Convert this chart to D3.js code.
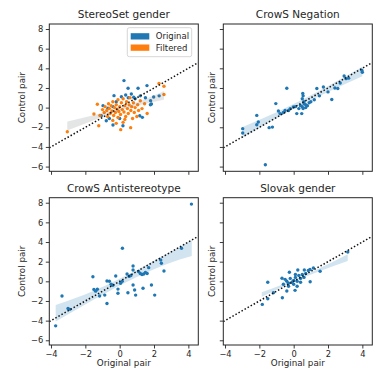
<!DOCTYPE html>
<html>
<head>
<meta charset="utf-8">
<script src="https://cdn.jsdelivr.net/npm/d3@7"></script>
<style>
  body { margin: 0; background: #fff; }
  svg text { font-family: "DejaVu Sans", sans-serif; fill: #262626; }
</style>
</head>
<body>
<div id="chart"></div>
<script>
// tick values shared by all four panels
const xTicks = [-4, -2, 0, 2, 4];
const yTicks = [-6, -4, -2, 0, 2, 4, 6, 8];
const xDomain = [-4.1, 4.58];
const yDomain = [-6.48, 8.51];

const titles = ["StereoSet gender", "CrowS Negation", "CrowS Antistereotype", "Slovak gender"];
const seriesNames = ["Original", "Filtered"];

// StereoSet gender: [original pair, control pair]
const stereoOriginal = [
  [0.25, 2.75], [0.49, 1.97], [1.07, 1.97], [1.59, 2.24], [-0.33, 1.22], [0.35, 1.29], [0.68, 1.39],
  [0.82, 1.05], [-0.39, 0.1], [-0.68, -0.07], [-0.97, 0.2], [1.85, 0.37], [1.8, 0.7], [1.17, -0.82],
  [1.32, -0.99], [-0.78, -1.33], [-0.39, -1.77], [0.19, -1.84], [-1.07, -0.82], [1.98, 1.08],
  [1.79, 0.3], [-0.2, 0.6], [0.9, 0.9], [0.5, 1.0], [1.2, 1.2], [0.0, -1.1], [-0.6, -1.1], [2.3, 1.2],
  [1.5, 1.0], [0.1, 1.1]
];
const stereoFiltered = [
  [-3.05, -2.45], [-1.22, -1.84], [-1.5, -0.65], [-1.3, 0.34], [-1.15, -0.8], [-1.0, -0.2], [-0.9, -0.5],
  [-0.85, 0.1], [-0.75, -0.3], [-0.7, -0.9], [-0.65, 0.4], [-0.6, -0.1], [-0.55, -0.6], [-0.5, 0.2],
  [-0.45, -0.35], [-0.4, -1.3], [-0.4, 0.6], [-0.35, -0.8], [-0.3, 0.0], [-0.25, -0.5], [-0.2, 0.3],
  [-0.15, -0.15], [-0.1, -1.0], [-0.1, 0.8], [-0.05, -0.4], [0.0, 0.1], [0.05, -0.7], [0.06, -2.24],
  [0.1, 0.5], [0.15, -0.2], [0.2, -1.5], [0.2, 0.9], [0.25, -0.45], [0.3, 0.2], [0.35, -0.9], [0.4, 0.6],
  [0.45, -0.1], [0.5, -0.6], [0.55, 0.3], [0.6, 1.0], [0.64, -2.04], [0.65, -0.3], [0.7, 0.1],
  [0.75, -1.1], [0.8, 0.5], [0.85, -0.5], [0.9, 0.0], [1.0, -0.9], [1.05, 0.3], [1.1, -0.3], [1.2, 0.7],
  [1.3, -0.1], [1.45, 0.4], [1.6, -0.6], [2.29, 2.45], [2.58, 2.17], [2.58, 1.33], [-0.2, -1.6], [0.3, -1.2]
];
const negation = [
  [-2.97, -2.14], [-2.97, -2.59], [-2.06, -1.47], [-2.15, -1.74], [-2.15, -0.79], [-1.43, -2.04],
  [-1.24, -1.98], [-1.04, 0.41], [-0.89, -0.35], [-0.79, -0.61], [-0.4, 1.97], [-0.6, -0.5], [-0.5, -0.3],
  [-0.3, -0.3], [-0.2, -0.1], [-0.02, 0.06], [0.1, 0.1], [0.18, -0.61], [0.47, -0.61], [0.53, 1.43],
  [0.55, 1.2], [0.5, 0.9], [0.6, 0.6], [0.7, 0.3], [0.5, 0.1], [0.55, -0.1], [0.7, 0.0], [0.8, 0.2],
  [0.9, 0.5], [0.6, 0.4], [0.4, 0.2], [0.3, -0.1], [1.0, 0.6], [1.2, 0.8], [1.35, 1.94], [1.5, 1.2],
  [1.73, 2.1], [2.0, 1.6], [2.22, 0.82], [2.4, 2.0], [2.57, 1.94], [2.71, 2.51], [2.94, 3.22],
  [3.05, 2.95], [3.2, 3.0], [3.97, 3.81], [4.0, 3.6], [-1.65, -5.82]
];
const antistereotype = [
  [4.18, 7.86], [0.16, 3.37], [-3.36, -1.5], [-3.73, -4.53], [-3.01, -2.76], [-2.9, -2.85],
  [-1.56, 0.47], [-1.5, -0.82], [-1.3, -0.8], [-1.4, -1.0], [-1.17, -1.5], [-0.87, -1.4], [-0.74, -2.25],
  [-0.74, 0.03], [-0.6, 0.0], [-0.5, -0.3], [-0.4, -0.4], [-0.23, 0.54], [-0.1, -0.79], [-0.1, -1.22],
  [0.05, -0.2], [0.15, 0.0], [0.43, 0.74], [0.48, -1.16], [0.55, 0.5], [0.65, 0.6], [0.78, 1.56],
  [0.78, 1.15], [0.78, -0.38], [0.87, -0.89], [0.93, -1.4], [1.1, 1.0], [1.2, 0.8], [1.3, 0.7],
  [1.4, 0.75], [1.5, 0.9], [1.6, 0.8], [1.69, 1.39], [1.36, -0.71], [1.85, -0.38], [2.04, -1.4],
  [2.39, 2.17], [2.43, 1.84], [2.58, 1.05], [3.6, 3.37]
];
const slovak = [
  [-1.83, -2.35], [-1.51, -0.1], [-1.51, -1.78], [-1.18, -1.16], [-0.66, -1.67], [-0.68, 0.31],
  [-0.4, -0.99], [-0.25, 0.92], [0.08, -0.92], [0.24, 1.15], [0.62, 1.15], [0.96, -0.04], [1.54, 1.02],
  [3.15, 2.99], [0.85, 1.1], [0.95, 1.2], [1.15, 1.35], [-0.5, 0.2], [-0.4, 0.0], [-0.3, -0.2],
  [-0.2, 0.3], [-0.1, -0.1], [0.0, 0.1], [0.1, 0.4], [0.2, 0.0], [0.3, 0.6], [0.4, 0.3], [0.5, 0.7],
  [0.6, 0.4], [0.7, 0.8], [-0.3, -0.5], [0.0, -0.3], [0.2, -0.5], [0.4, -0.1], [0.1, 0.7], [-0.6, -0.3]
];

// confidence bands: x, lower, upper
const stereoBandX = [-3.05, -1.5, 0.3, 1.5, 2.58];
const stereoBandLo = [-2.32, -1.25, -0.12, 0.41, 0.82];
const stereoBandHi = [-1.4, -0.75, 0.12, 0.91, 1.7];
const filteredBandX = [-3.05, -1.5, 0.3, 1.5, 2.58];
const filteredBandLo = [-2.3, -1.3, -0.18, 0.36, 0.78];
const filteredBandHi = [-1.45, -0.8, 0.06, 0.85, 1.62];
const negationBandX = [-2.97, -1, 0.5, 2, 4.0];
const negationBandLo = [-3.07, -1.07, 0.35, 1.6, 3.2];
const negationBandHi = [-1.97, -0.47, 0.79, 2.2, 4.16];
const antiBandX = [-3.73, -1.5, 1.0, 2.8, 4.2];
const antiBandLo = [-4.1, -1.85, 0.45, 1.8, 2.58];
const antiBandHi = [-2.42, -0.95, 1.15, 2.85, 4.21];
const slovakBandX = [-1.86, -0.5, 0.3, 1.5, 3.15];
const slovakBandLo = [-1.58, -0.45, 0.2, 1.03, 2.06];
const slovakBandHi = [-1.12, -0.21, 0.36, 1.33, 2.76];

const blue = "#1f77b4", orange = "#ff7f0e";

const zipBand = (xs, lo, hi) => xs.map((x, i) => ({x: x, lo: lo[i], hi: hi[i]}));

const panels = [
  {title: titles[0], left: 49.3, top: 24, xLabels: false, yLabels: true,
   series: [{pts: stereoOriginal, color: blue}, {pts: stereoFiltered, color: orange}],
   bands: [{d: zipBand(filteredBandX, filteredBandLo, filteredBandHi), color: orange, op: 0.08},
           {d: zipBand(stereoBandX, stereoBandLo, stereoBandHi), color: blue, op: 0.12}],
   legend: true},
  {title: titles[1], left: 223.3, top: 24, xLabels: false, yLabels: false,
   series: [{pts: negation, color: blue}],
   bands: [{d: zipBand(negationBandX, negationBandLo, negationBandHi), color: blue, op: 0.2}]},
  {title: titles[2], left: 49.3, top: 197.7, xLabels: true, yLabels: true,
   series: [{pts: antistereotype, color: blue}],
   bands: [{d: zipBand(antiBandX, antiBandLo, antiBandHi), color: blue, op: 0.2}]},
  {title: titles[3], left: 223.3, top: 197.7, xLabels: true, yLabels: false,
   series: [{pts: slovak, color: blue}],
   bands: [{d: zipBand(slovakBandX, slovakBandLo, slovakBandHi), color: blue, op: 0.2}]}
];

const W = 149, H = 147.3;

const svg = d3.select("#chart").append("svg")
  .attr("width", 382).attr("height", 382);

panels.forEach((p, i) => {
  const g = svg.append("g").attr("transform", `translate(${p.left},${p.top})`);
  const x = d3.scaleLinear().domain(xDomain).range([0, W]);
  const y = d3.scaleLinear().domain(yDomain).range([H, 0]);

  g.append("clipPath").attr("id", "clip" + i)
    .append("rect").attr("width", W).attr("height", H);
  const plot = g.append("g").attr("clip-path", `url(#clip${i})`);

  // scatter points
  p.series.forEach(s => {
    plot.append("g").selectAll("circle").data(s.pts).enter().append("circle")
      .attr("cx", d => x(d[0])).attr("cy", d => y(d[1]))
      .attr("r", 1.7).attr("fill", s.color);
  });

  // regression bands over the points
  const area = d3.area().x(d => x(d.x)).y0(d => y(d.lo)).y1(d => y(d.hi))
    .curve(d3.curveMonotoneX);
  p.bands.forEach(b => {
    plot.append("path").datum(b.d).attr("d", area)
      .attr("fill", b.color).attr("fill-opacity", b.op);
  });

  // y = x reference line
  plot.append("line")
    .attr("x1", x(xDomain[0])).attr("y1", y(xDomain[0]))
    .attr("x2", x(xDomain[1])).attr("y2", y(xDomain[1]))
    .attr("stroke", "#111").attr("stroke-width", 1.5)
    .attr("stroke-dasharray", "1.5,2");

  // axes
  const xAxis = d3.axisBottom(x).tickValues(xTicks).tickSize(3.5).tickPadding(2.5);
  if (!p.xLabels) xAxis.tickFormat("");
  const yAxis = d3.axisLeft(y).tickValues(yTicks).tickSize(3.5).tickPadding(2.5);
  if (!p.yLabels) yAxis.tickFormat("");

  const gx = g.append("g").attr("transform", `translate(0,${H})`).call(xAxis);
  const gy = g.append("g").call(yAxis);
  [gx, gy].forEach(a => {
    a.select(".domain").remove();
    a.selectAll(".tick line").attr("stroke", "#262626").attr("stroke-width", 0.9);
    a.selectAll(".tick text").attr("font-size", 8.3).attr("fill", "#262626")
      .attr("font-family", "DejaVu Sans");
  });

  g.append("rect").attr("width", W).attr("height", H)
    .attr("fill", "none").attr("stroke", "#262626").attr("stroke-width", 1);

  g.append("text").attr("x", W / 2).attr("y", -6)
    .attr("text-anchor", "middle").attr("font-size", 10.5).text(p.title);

  // axis labels
  const ylx = p.yLabels ? 24.5 - p.left : 215 - p.left;
  g.append("text").attr("transform", `translate(${ylx},${H / 2}) rotate(-90)`)
    .attr("text-anchor", "middle").attr("font-size", 8.75).text("Control pair");
  if (p.xLabels) {
    g.append("text").attr("x", W / 2).attr("y", 366 - p.top)
      .attr("text-anchor", "middle").attr("font-size", 8.75).text("Original pair");
  }

  if (p.legend) {
    const lg = g.append("g").attr("transform", `translate(${127.3 - p.left},${27.7 - p.top})`);
    lg.append("rect").attr("width", 64.4).attr("height", 29).attr("rx", 2)
      .attr("fill", "#fff").attr("fill-opacity", 0.8).attr("stroke", "#ccc").attr("stroke-width", 0.8);
    seriesNames.forEach((name, j) => {
      lg.append("rect").attr("x", 3.4).attr("y", 5.5 + j * 11.3)
        .attr("width", 18.6).attr("height", 6.3)
        .attr("fill", j === 0 ? blue : orange);
      lg.append("text").attr("x", 28.5).attr("y", 11.8 + j * 11.3)
        .attr("font-size", 8.5).text(name);
    });
  }
});
</script>
</body>
</html>
